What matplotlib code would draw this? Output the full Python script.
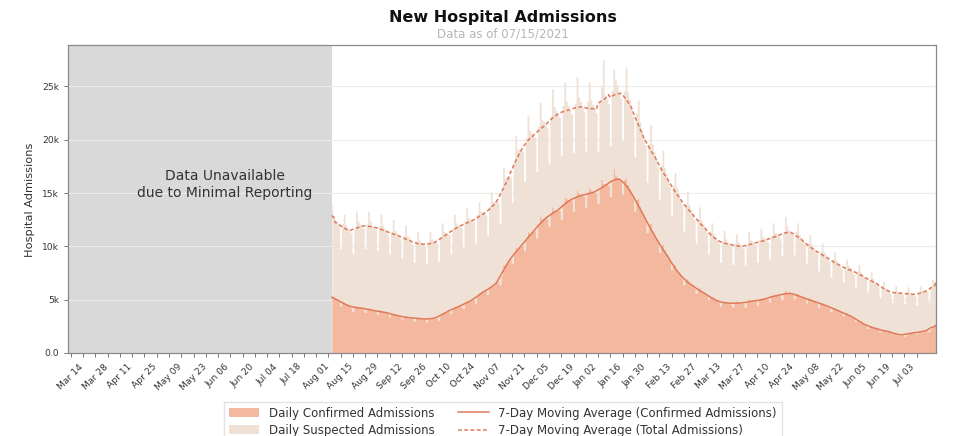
import numpy as np
import pandas as pd
import matplotlib
matplotlib.use("Agg")
import matplotlib.pyplot as plt
from matplotlib.patches import Patch
from matplotlib.lines import Line2D
from matplotlib.ticker import FuncFormatter

# daily admissions (thousands), one row per week, first day 2020-08-10
daily_confirmed = [
    5.5, 5.3, 5.1, 5.0, 4.9, 4.4, 4.8,
    4.8, 4.6, 4.5, 4.4, 4.3, 3.9, 4.3,
    4.5, 4.3, 4.3, 4.2, 4.1, 3.8, 4.2,
    4.3, 4.1, 4.0, 4.0, 3.9, 3.6, 3.9,
    4.1, 3.9, 3.9, 3.8, 3.7, 3.4, 3.7,
    3.8, 3.6, 3.5, 3.5, 3.4, 3.2, 3.4,
    3.5, 3.4, 3.3, 3.3, 3.3, 3.0, 3.3,
    3.4, 3.3, 3.2, 3.2, 3.2, 2.9, 3.2,
    3.3, 3.3, 3.3, 3.3, 3.3, 3.1, 3.5,
    3.8, 3.8, 3.9, 3.9, 3.9, 3.7, 4.2,
    4.4, 4.3, 4.4, 4.4, 4.4, 4.2, 4.7,
    4.9, 4.9, 4.9, 5.0, 5.0, 4.7, 5.4,
    5.7, 5.7, 5.7, 5.8, 5.9, 5.5, 6.2,
    6.3, 6.3, 6.5, 6.6, 6.7, 6.4, 7.3,
    8.3, 8.3, 8.4, 8.6, 8.8, 8.4, 9.4,
    9.9, 9.8, 9.9, 10.0, 10.1, 9.6, 10.7,
    11.4, 11.2, 11.3, 11.4, 11.5, 10.8, 12.1,
    12.8, 12.6, 12.6, 12.6, 12.6, 11.9, 13.2,
    13.7, 13.4, 13.4, 13.4, 13.4, 12.5, 13.9,
    14.7, 14.5, 14.4, 14.3, 14.3, 13.3, 14.7,
    15.4, 15.0, 14.9, 14.8, 14.7, 13.7, 15.1,
    15.6, 15.3, 15.2, 15.1, 15.0, 14.0, 15.5,
    16.3, 15.9, 15.9, 15.8, 15.7, 14.7, 16.2,
    17.3, 16.7, 16.5, 16.3, 16.1, 14.9, 16.3,
    16.5, 15.8, 15.4, 15.0, 14.6, 13.3, 14.4,
    14.5, 13.8, 13.3, 12.9, 12.5, 11.3, 12.1,
    12.2, 11.6, 11.2, 10.8, 10.4, 9.4, 10.1,
    10.2, 9.7, 9.3, 9.0, 8.7, 7.8, 8.3,
    8.3, 7.8, 7.6, 7.3, 7.0, 6.4, 6.8,
    7.0, 6.7, 6.5, 6.3, 6.1, 5.6, 6.0,
    6.2, 5.8, 5.7, 5.6, 5.4, 5.0, 5.4,
    5.3, 5.1, 5.0, 4.9, 4.8, 4.4, 4.8,
    4.9, 4.8, 4.7, 4.7, 4.6, 4.3, 4.7,
    4.9, 4.8, 4.7, 4.7, 4.7, 4.3, 4.8,
    5.1, 4.9, 4.9, 4.9, 4.9, 4.5, 5.0,
    5.2, 5.1, 5.1, 5.1, 5.1, 4.8, 5.3,
    5.6, 5.5, 5.4, 5.4, 5.4, 5.0, 5.6,
    5.9, 5.7, 5.7, 5.6, 5.5, 5.1, 5.6,
    5.6, 5.4, 5.3, 5.2, 5.1, 4.7, 5.1,
    5.2, 5.0, 4.9, 4.8, 4.7, 4.3, 4.7,
    4.8, 4.6, 4.5, 4.4, 4.3, 3.9, 4.3,
    4.3, 4.1, 4.0, 3.9, 3.8, 3.5, 3.7,
    3.8, 3.6, 3.5, 3.4, 3.3, 3.0, 3.2,
    3.1, 2.9, 2.8, 2.7, 2.6, 2.3, 2.5,
    2.6, 2.4, 2.3, 2.3, 2.2, 2.0, 2.2,
    2.2, 2.1, 2.0, 2.0, 2.0, 1.8, 1.9,
    1.8, 1.7, 1.7, 1.7, 1.7, 1.6, 1.7,
    1.9, 1.9, 1.9, 1.9, 1.9, 1.8, 2.0,
    2.0, 2.0, 2.1, 2.1, 2.1, 2.0, 2.3,
    2.5, 2.7, 2.9,
]

# confirmed + suspected, same days
daily_total = [
    14.0, 12.9, 12.5, 12.2, 11.9, 9.8, 12.1,
    13.0, 12.0, 11.7, 11.5, 11.3, 9.3, 11.6,
    13.3, 12.4, 12.1, 11.9, 11.7, 9.8, 12.1,
    13.3, 12.4, 12.0, 11.8, 11.6, 9.6, 11.9,
    13.0, 12.0, 11.7, 11.4, 11.1, 9.3, 11.4,
    12.5, 11.5, 11.3, 11.0, 10.7, 8.9, 11.0,
    12.0, 11.0, 10.8, 10.5, 10.2, 8.5, 10.5,
    11.4, 10.6, 10.4, 10.2, 10.0, 8.4, 10.4,
    11.4, 10.7, 10.5, 10.4, 10.3, 8.6, 10.8,
    12.2, 11.4, 11.3, 11.2, 11.1, 9.3, 11.7,
    13.0, 12.2, 12.0, 11.9, 11.8, 9.9, 12.4,
    13.6, 12.7, 12.5, 12.4, 12.3, 10.3, 13.0,
    14.2, 13.3, 13.3, 13.1, 12.9, 11.0, 13.8,
    15.1, 14.2, 14.3, 14.2, 14.1, 12.1, 15.2,
    17.4, 16.4, 16.5, 16.5, 16.5, 14.1, 17.9,
    20.4, 19.1, 19.1, 19.0, 18.9, 16.1, 20.2,
    22.3, 20.9, 20.6, 20.4, 20.2, 17.0, 21.3,
    23.5, 21.9, 21.7, 21.4, 21.1, 17.8, 22.2,
    24.8, 23.1, 22.7, 22.4, 22.1, 18.5, 23.2,
    25.4, 23.6, 23.2, 22.8, 22.4, 18.8, 23.4,
    25.9, 24.0, 23.6, 23.1, 22.6, 18.9, 23.6,
    25.4, 23.7, 23.3, 22.9, 22.5, 18.9, 23.6,
    25.0, 27.5, 24.2, 23.8, 23.4, 19.4, 24.6,
    26.6, 25.6, 25.1, 24.5, 23.9, 19.9, 24.6,
    26.8, 24.5, 23.8, 23.0, 22.2, 18.4, 22.5,
    23.7, 21.7, 20.9, 20.2, 19.5, 16.0, 19.6,
    21.4, 19.6, 18.9, 18.2, 17.5, 14.4, 17.6,
    19.0, 17.4, 16.8, 16.2, 15.6, 12.9, 15.7,
    16.9, 15.5, 14.9, 14.4, 13.9, 11.4, 14.0,
    15.2, 13.9, 13.5, 13.0, 12.5, 10.3, 12.6,
    13.7, 12.5, 12.1, 11.7, 11.3, 9.3, 11.4,
    12.2, 11.2, 10.9, 10.6, 10.3, 8.5, 10.5,
    11.5, 10.7, 10.4, 10.2, 10.0, 8.3, 10.3,
    11.2, 10.4, 10.2, 10.0, 9.8, 8.2, 10.2,
    11.4, 10.6, 10.5, 10.3, 10.1, 8.5, 10.6,
    11.7, 10.9, 10.8, 10.6, 10.4, 8.8, 11.0,
    12.2, 11.3, 11.2, 11.0, 10.8, 9.1, 11.4,
    12.8, 11.9, 11.5, 11.3, 11.1, 9.2, 11.4,
    12.2, 11.1, 10.8, 10.5, 10.2, 8.4, 10.3,
    11.1, 10.2, 9.9, 9.6, 9.3, 7.7, 9.5,
    10.3, 9.5, 9.2, 8.9, 8.6, 7.1, 8.8,
    9.5, 8.7, 8.5, 8.2, 7.9, 6.6, 8.1,
    8.8, 8.2, 8.0, 7.7, 7.4, 6.2, 7.7,
    8.3, 7.6, 7.3, 7.1, 6.9, 5.7, 6.9,
    7.6, 7.0, 6.7, 6.5, 6.3, 5.2, 6.3,
    6.7, 6.1, 6.0, 5.8, 5.6, 4.7, 5.7,
    6.3, 5.8, 5.7, 5.6, 5.5, 4.6, 5.7,
    6.2, 5.7, 5.6, 5.5, 5.4, 4.5, 5.6,
    6.3, 5.9, 5.8, 5.8, 5.8, 4.8, 6.1,
    6.9, 6.7, 6.7,
]

data_start = pd.Timestamp("2020-08-10")
axis_start = pd.Timestamp("2020-03-12 08:00")
first_tick = "2020-03-14"
last_tick = "2021-07-10"

conf_color = "#f4b89f"
susp_color = "#efe1d5"
line_color = "#e07957"

confirmed = np.array(daily_confirmed) * 1000
total = np.array(daily_total) * 1000
dates = pd.date_range(data_start, periods=len(confirmed), freq="D")

# 7-day moving averages
ma_conf = pd.Series(confirmed).rolling(7, center=True, min_periods=1).mean()
ma_total = pd.Series(total).rolling(7, center=True, min_periods=1).mean()

fig = plt.figure(figsize=(9.54, 4.36), dpi=100)
ax = fig.add_axes([68 / 954, 1 - 353 / 436, 868 / 954, 308 / 436])

ax.axvspan(axis_start, data_start, color="#d9d9d9", lw=0, zorder=0)
ax.fill_between(dates, 0, confirmed, step="mid", color=conf_color, lw=0)
ax.fill_between(dates, confirmed, total, step="mid", color=susp_color, lw=0)
ax.plot(dates, ma_conf, color=line_color, lw=1.1)
ax.plot(dates, ma_total, color=line_color, lw=1.1, dashes=(2.5, 1.6))

ax.set_xlim(axis_start, dates[-1])
ax.set_ylim(0, total.max() * 1.05)

ax.set_axisbelow(True)
ax.yaxis.grid(True, color="#ececec", lw=0.8)
ax.set_yticks([0, 5000, 10000, 15000, 20000, 25000])
ax.yaxis.set_major_formatter(
    FuncFormatter(lambda v, p: "0.0" if v == 0 else f"{v / 1000:.0f}k"))

tick_dates = pd.date_range(first_tick, last_tick, freq="7D")
tick_labels = [d.strftime("%b %d") if i % 2 == 0 else ""
               for i, d in enumerate(tick_dates)]
ax.set_xticks(tick_dates, tick_labels, rotation=45)

ax.tick_params(axis="both", labelsize=6.6, length=3, width=0.7,
               color="#777777", labelcolor="#333333")
for sp in ax.spines.values():
    sp.set_color("#8a8a8a")
    sp.set_linewidth(0.9)

ax.text(pd.Timestamp("2020-06-10"), 15800,
        "Data Unavailable\ndue to Minimal Reporting",
        ha="center", va="center", fontsize=10, color="#333333",
        linespacing=1.2)

fig.text(0.527, 0.961, "New Hospital Admissions", ha="center", va="center",
         fontsize=11.5, fontweight="bold", color="#111111")
fig.text(0.527, 0.923, "Data as of 07/15/2021", ha="center", va="center",
         fontsize=8.5, color="#b5b5b5")
fig.text(0.0315, 0.541, "Hospital Admissions", rotation=90, ha="center",
         va="center", fontsize=8.2, color="#333333")

handles = [
    Patch(facecolor=conf_color, edgecolor="none"),
    Patch(facecolor=susp_color, edgecolor="none"),
    Line2D([], [], color=line_color, lw=1.1),
    Line2D([], [], color=line_color, lw=1.1, dashes=(2.5, 1.6)),
]
labels = [
    "Daily Confirmed Admissions",
    "Daily Suspected Admissions",
    "7-Day Moving Average (Confirmed Admissions)",
    "7-Day Moving Average (Total Admissions)",
]
leg = fig.legend(handles, labels, loc="upper center",
                 bbox_to_anchor=(0.527, 0.092), ncol=2, fontsize=8.5,
                 frameon=True, fancybox=False, edgecolor="#dddddd",
                 handlelength=2.6, columnspacing=2.0, borderpad=0.4,
                 labelspacing=0.35)
for t in leg.get_texts():
    t.set_color("#333333")

fig.savefig("out.png", dpi=100)
